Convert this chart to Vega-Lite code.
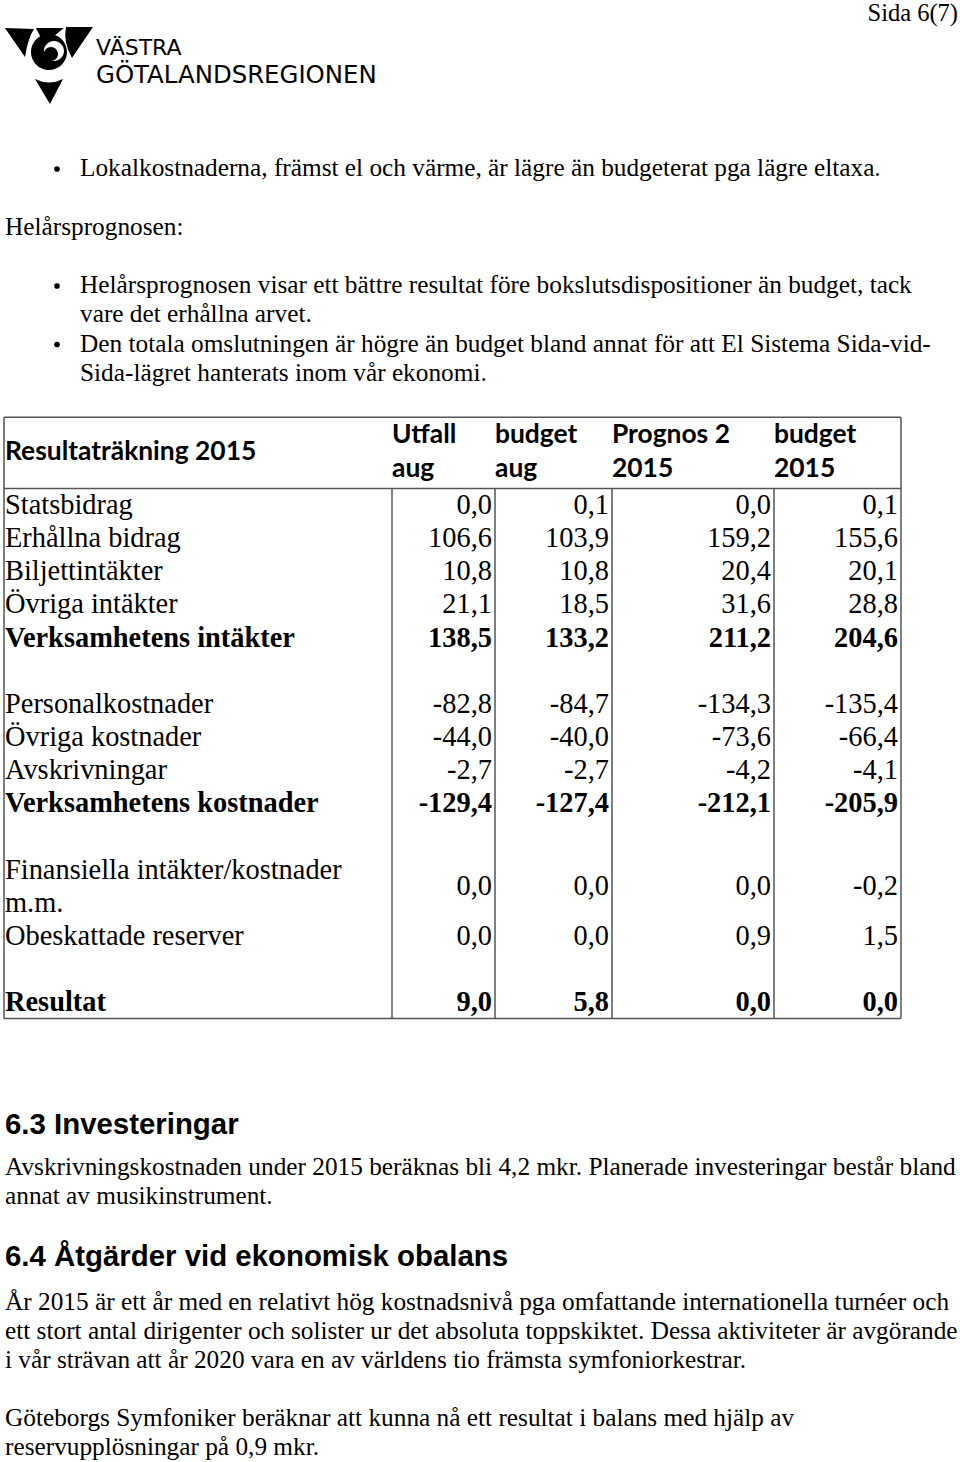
{
  "$schema": "https://vega.github.io/schema/vega-lite/v6.json",
  "width": 960,
  "height": 1462,
  "padding": 0,
  "autosize": {"type": "none"},
  "background": "white",
  "config": {
    "view": {"stroke": null},
    "locale": {"number": {"decimal": ",", "thousands": " ", "grouping": [3], "currency": ["", " kr"], "minus": "-"}}
  },
  "datasets": {
    "masthead": [
      {"part": "page", "text": "Sida 6(7)", "line": -5.27, "pos": 1},
      {"part": "logo1", "text": "VÄSTRA", "line": -4.09, "pos": 0.0955},
      {"part": "logo2", "text": "GÖTALANDSREGIONEN", "line": -3.15, "pos": 0.0955},
      {"part": "symbol", "text": "", "line": -3.521, "pos": 0.0451}
    ],
    "top": [
      {"line": 0, "indent": 0.0787, "bullet": true, "text": "Lokalkostnaderna, främst el och värme, är lägre än budgeterat pga lägre eltaxa."},
      {"line": 2, "indent": 0, "bullet": false, "text": "Helårsprognosen:"},
      {"line": 4, "indent": 0.0787, "bullet": true, "text": "Helårsprognosen visar ett bättre resultat före bokslutsdispositioner än budget, tack"},
      {"line": 5, "indent": 0.0787, "bullet": false, "text": "vare det erhållna arvet."},
      {"line": 6, "indent": 0.0787, "bullet": true, "text": "Den totala omslutningen är högre än budget bland annat för att El Sistema Sida-vid-"},
      {"line": 7, "indent": 0.0787, "bullet": false, "text": "Sida-lägret hanterats inom vår ekonomi."}
    ],
    "columns": [
      {"key": "Utfall aug", "col": 1, "end": 2, "head": ["Utfall", "aug"]},
      {"key": "budget aug", "col": 2, "end": 3, "head": ["budget", "aug"]},
      {"key": "Prognos 2 2015", "col": 3, "end": 4, "head": ["Prognos 2", "2015"]},
      {"key": "budget 2015", "col": 4, "end": 5, "head": ["budget", "2015"]}
    ],
    "table": [
      {"row": 0, "label": "Statsbidrag", "total": false, "Utfall aug": 0.0, "budget aug": 0.1, "Prognos 2 2015": 0.0, "budget 2015": 0.1},
      {"row": 1, "label": "Erhållna bidrag", "total": false, "Utfall aug": 106.6, "budget aug": 103.9, "Prognos 2 2015": 159.2, "budget 2015": 155.6},
      {"row": 2, "label": "Biljettintäkter", "total": false, "Utfall aug": 10.8, "budget aug": 10.8, "Prognos 2 2015": 20.4, "budget 2015": 20.1},
      {"row": 3, "label": "Övriga intäkter", "total": false, "Utfall aug": 21.1, "budget aug": 18.5, "Prognos 2 2015": 31.6, "budget 2015": 28.8},
      {"row": 4, "label": "Verksamhetens intäkter", "total": true, "Utfall aug": 138.5, "budget aug": 133.2, "Prognos 2 2015": 211.2, "budget 2015": 204.6},
      {"row": 6, "label": "Personalkostnader", "total": false, "Utfall aug": -82.8, "budget aug": -84.7, "Prognos 2 2015": -134.3, "budget 2015": -135.4},
      {"row": 7, "label": "Övriga kostnader", "total": false, "Utfall aug": -44.0, "budget aug": -40.0, "Prognos 2 2015": -73.6, "budget 2015": -66.4},
      {"row": 8, "label": "Avskrivningar", "total": false, "Utfall aug": -2.7, "budget aug": -2.7, "Prognos 2 2015": -4.2, "budget 2015": -4.1},
      {"row": 9, "label": "Verksamhetens kostnader", "total": true, "Utfall aug": -129.4, "budget aug": -127.4, "Prognos 2 2015": -212.1, "budget 2015": -205.9},
      {"row": 11.5, "label": ["Finansiella intäkter/kostnader", "m.m."], "total": false, "Utfall aug": 0.0, "budget aug": 0.0, "Prognos 2 2015": 0.0, "budget 2015": -0.2},
      {"row": 13, "label": "Obeskattade reserver", "total": false, "Utfall aug": 0.0, "budget aug": 0.0, "Prognos 2 2015": 0.9, "budget 2015": 1.5},
      {"row": 15, "label": "Resultat", "total": true, "Utfall aug": 9.0, "budget aug": 5.8, "Prognos 2 2015": 0.0, "budget 2015": 0.0}
    ],
    "grid": [
      {"c1": 0, "c2": 5, "r1": -2.65, "r2": -2.65},
      {"c1": 0, "c2": 5, "r1": -0.5, "r2": -0.5},
      {"c1": 0, "c2": 5, "r1": 15.5, "r2": 15.5},
      {"c1": 0, "c2": 0, "r1": -2.65, "r2": 15.5},
      {"c1": 5, "c2": 5, "r1": -2.65, "r2": 15.5},
      {"c1": 1, "c2": 1, "r1": -0.5, "r2": 15.5},
      {"c1": 2, "c2": 2, "r1": -0.5, "r2": 15.5},
      {"c1": 3, "c2": 3, "r1": -0.5, "r2": 15.5},
      {"c1": 4, "c2": 4, "r1": -0.5, "r2": 15.5}
    ],
    "bottom": [
      {"line": -6.1, "kind": "heading", "text": "6.3 Investeringar"},
      {"line": -4.655, "kind": "body", "text": "Avskrivningskostnaden under 2015 beräknas bli 4,2 mkr. Planerade investeringar består bland"},
      {"line": -3.655, "kind": "body", "text": "annat av musikinstrument."},
      {"line": -1.55, "kind": "heading", "text": "6.4 Åtgärder vid ekonomisk obalans"},
      {"line": 0, "kind": "body", "text": "År 2015 är ett år med en relativt hög kostnadsnivå pga omfattande internationella turnéer och"},
      {"line": 1, "kind": "body", "text": "ett stort antal dirigenter och solister ur det absoluta toppskiktet. Dessa aktiviteter är avgörande"},
      {"line": 2, "kind": "body", "text": "i vår strävan att år 2020 vara en av världens tio främsta symfoniorkestrar."},
      {"line": 4, "kind": "body", "text": "Göteborgs Symfoniker beräknar att kunna nå ett resultat i balans med hjälp av"},
      {"line": 5, "kind": "body", "text": "reservupplösningar på 0,9 mkr."}
    ]
  },
  "resolve": {"scale": {"x": "independent", "y": "independent"}},
  "layer": [
    {
      "data": {"name": "masthead"},
      "transform": [{"filter": "datum.part === 'symbol'"}],
      "mark": {
        "type": "point", "filled": true, "color": "black", "opacity": 1, "size": 8100, "strokeWidth": 0,
        "shape": "M-0.956,-0.822L-0.311,-0.8Q-0.444,-0.6,-0.511,-0.178Z M0.4,-0.844L1,-0.844L0.533,-0.156Q0.333,-0.511,0.4,-0.844Z M-0.2667,-0.8222L0.3556,-0.8222L-0.0889,-0.4667Z M0.4222,-0.2889C0.4222,-0.068,0.2431,0.1111,0.0222,0.1111C-0.1987,0.1111,-0.3778,-0.068,-0.3778,-0.2889C-0.3778,-0.5098,-0.1987,-0.6889,0.0222,-0.6889C0.2431,-0.6889,0.4222,-0.5098,0.4222,-0.2889Z M0.3555,-0.3111C0.3555,-0.4338,0.256,-0.5333,0.1333,-0.5333C0.0106,-0.5333,-0.0889,-0.4338,-0.0889,-0.3111C-0.0889,-0.1884,0.0106,-0.0889,0.1333,-0.0889C0.256,-0.0889,0.3555,-0.1884,0.3555,-0.3111Z M0.2223,-0.2444C0.2223,-0.1585,0.1526,-0.0888,0.0667,-0.0888C-0.0192,-0.0888,-0.0889,-0.1585,-0.0889,-0.2444C-0.0889,-0.3303,-0.0192,-0.4,0.0667,-0.4C0.1526,-0.4,0.2223,-0.3303,0.2223,-0.2444Z M-0.2889,0.3111Q0.0222,0.4667,0.3333,0.3111L0.0444,0.8667Z"
      },
      "encoding": {
        "x": {"field": "pos", "type": "quantitative", "axis": null, "scale": {"domain": [0, 1], "range": [5, 958], "nice": false, "zero": false}},
        "y": {"field": "line", "type": "quantitative", "axis": null, "scale": {"domain": [0, 10], "range": [168, 460.5], "nice": false, "zero": false}}
      }
    },
    {
      "data": {"name": "masthead"},
      "transform": [{"filter": "datum.part === 'logo1'"}],
      "mark": {"type": "text", "align": "left", "baseline": "middle", "font": "DejaVu Sans", "fontSize": 22, "color": "black"},
      "encoding": {
        "x": {"field": "pos", "type": "quantitative", "axis": null, "scale": {"domain": [0, 1], "range": [5, 958], "nice": false, "zero": false}},
        "y": {"field": "line", "type": "quantitative", "axis": null, "scale": {"domain": [0, 10], "range": [168, 460.5], "nice": false, "zero": false}},
        "text": {"field": "text", "type": "nominal"}
      }
    },
    {
      "data": {"name": "masthead"},
      "transform": [{"filter": "datum.part === 'logo2'"}],
      "mark": {"type": "text", "align": "left", "baseline": "middle", "font": "DejaVu Sans", "fontSize": 24.4, "color": "black"},
      "encoding": {
        "x": {"field": "pos", "type": "quantitative", "axis": null, "scale": {"domain": [0, 1], "range": [5, 958], "nice": false, "zero": false}},
        "y": {"field": "line", "type": "quantitative", "axis": null, "scale": {"domain": [0, 10], "range": [168, 460.5], "nice": false, "zero": false}},
        "text": {"field": "text", "type": "nominal"}
      }
    },
    {
      "data": {"name": "masthead"},
      "transform": [{"filter": "datum.part === 'page'"}],
      "mark": {"type": "text", "align": "right", "baseline": "middle", "font": "Liberation Serif", "fontSize": 24.5, "color": "black"},
      "encoding": {
        "x": {"field": "pos", "type": "quantitative", "axis": null, "scale": {"domain": [0, 1], "range": [5, 958], "nice": false, "zero": false}},
        "y": {"field": "line", "type": "quantitative", "axis": null, "scale": {"domain": [0, 10], "range": [168, 460.5], "nice": false, "zero": false}},
        "text": {"field": "text", "type": "nominal"}
      }
    },
    {
      "data": {"name": "top"},
      "mark": {"type": "text", "align": "left", "baseline": "middle", "font": "Liberation Serif", "fontSize": 25.3, "color": "black"},
      "encoding": {
        "x": {"field": "indent", "type": "quantitative", "axis": null, "scale": {"domain": [0, 1], "range": [5, 958], "nice": false, "zero": false}},
        "y": {"field": "line", "type": "quantitative", "axis": null, "scale": {"domain": [0, 10], "range": [168, 460.5], "nice": false, "zero": false}},
        "text": {"field": "text", "type": "nominal"}
      }
    },
    {
      "data": {"name": "top"},
      "transform": [{"filter": "datum.bullet"}],
      "mark": {"type": "point", "shape": "circle", "filled": true, "color": "black", "opacity": 1, "size": 32, "xOffset": -23, "yOffset": 1},
      "encoding": {
        "x": {"field": "indent", "type": "quantitative", "axis": null, "scale": {"domain": [0, 1], "range": [5, 958], "nice": false, "zero": false}},
        "y": {"field": "line", "type": "quantitative", "axis": null, "scale": {"domain": [0, 10], "range": [168, 460.5], "nice": false, "zero": false}}
      }
    },
    {
      "data": {"name": "grid"},
      "mark": {"type": "rule", "color": "#555555", "strokeWidth": 1.5},
      "encoding": {
        "x": {"field": "c1", "type": "quantitative", "axis": null, "scale": {"domain": [0, 1, 2, 3, 4, 5], "range": [4, 392, 495, 612, 774, 901], "nice": false, "zero": false}},
        "x2": {"field": "c2"},
        "y": {"field": "r1", "type": "quantitative", "axis": null, "scale": {"domain": [0, 15], "range": [505, 1002], "nice": false, "zero": false}},
        "y2": {"field": "r2"}
      }
    },
    {
      "data": {"values": [{"title": "Resultaträkning 2015", "col": 0, "row": -1.6}]},
      "mark": {"type": "text", "align": "left", "baseline": "middle", "font": "Lato", "fontWeight": "bold", "fontSize": 26.4, "color": "black", "dx": 1},
      "encoding": {
        "x": {"field": "col", "type": "quantitative", "axis": null, "scale": {"domain": [0, 1, 2, 3, 4, 5], "range": [4, 392, 495, 612, 774, 901], "nice": false, "zero": false}},
        "y": {"field": "row", "type": "quantitative", "axis": null, "scale": {"domain": [0, 15], "range": [505, 1002], "nice": false, "zero": false}},
        "text": {"field": "title", "type": "nominal"}
      }
    },
    {
      "data": {"name": "columns"},
      "mark": {"type": "text", "align": "left", "baseline": "middle", "font": "Lato", "fontWeight": "bold", "fontSize": 26.4, "lineHeight": 34, "color": "black", "dx": 0},
      "encoding": {
        "x": {"field": "col", "type": "quantitative", "axis": null, "scale": {"domain": [0, 1, 2, 3, 4, 5], "range": [4, 392, 495, 612, 774, 901], "nice": false, "zero": false}},
        "y": {"datum": -2.113, "type": "quantitative", "axis": null, "scale": {"domain": [0, 15], "range": [505, 1002], "nice": false, "zero": false}},
        "text": {"field": "head", "type": "nominal"}
      }
    },
    {
      "data": {"name": "table"},
      "transform": [{"filter": "!datum.total && !isArray(datum.label)"}],
      "mark": {"type": "text", "align": "left", "baseline": "middle", "font": "Liberation Serif", "fontSize": 28.4, "color": "black", "dx": 1},
      "encoding": {
        "x": {"datum": 0, "type": "quantitative", "axis": null, "scale": {"domain": [0, 1, 2, 3, 4, 5], "range": [4, 392, 495, 612, 774, 901], "nice": false, "zero": false}},
        "y": {"field": "row", "type": "quantitative", "axis": null, "scale": {"domain": [0, 15], "range": [505, 1002], "nice": false, "zero": false}},
        "text": {"field": "label", "type": "nominal"}
      }
    },
    {
      "data": {"name": "table"},
      "transform": [{"filter": "isArray(datum.label)"}],
      "mark": {"type": "text", "align": "left", "baseline": "middle", "font": "Liberation Serif", "fontSize": 28.4, "lineHeight": 33.1, "color": "black", "dx": 1, "yOffset": -16.5},
      "encoding": {
        "x": {"datum": 0, "type": "quantitative", "axis": null, "scale": {"domain": [0, 1, 2, 3, 4, 5], "range": [4, 392, 495, 612, 774, 901], "nice": false, "zero": false}},
        "y": {"field": "row", "type": "quantitative", "axis": null, "scale": {"domain": [0, 15], "range": [505, 1002], "nice": false, "zero": false}},
        "text": {"field": "label", "type": "nominal"}
      }
    },
    {
      "data": {"name": "table"},
      "transform": [{"filter": "datum.total"}],
      "mark": {"type": "text", "align": "left", "baseline": "middle", "font": "Liberation Serif", "fontWeight": "bold", "fontSize": 28.4, "color": "black", "dx": 1},
      "encoding": {
        "x": {"datum": 0, "type": "quantitative", "axis": null, "scale": {"domain": [0, 1, 2, 3, 4, 5], "range": [4, 392, 495, 612, 774, 901], "nice": false, "zero": false}},
        "y": {"field": "row", "type": "quantitative", "axis": null, "scale": {"domain": [0, 15], "range": [505, 1002], "nice": false, "zero": false}},
        "text": {"field": "label", "type": "nominal"}
      }
    },
    {
      "data": {"name": "table"},
      "transform": [
        {"fold": ["Utfall aug", "budget aug", "Prognos 2 2015", "budget 2015"]},
        {"lookup": "key", "from": {"data": {"name": "columns"}, "key": "key", "fields": ["end"]}},
        {"filter": "!datum.total"}
      ],
      "mark": {"type": "text", "align": "right", "baseline": "middle", "font": "Liberation Serif", "fontSize": 28.4, "color": "black", "dx": -3},
      "encoding": {
        "x": {"field": "end", "type": "quantitative", "axis": null, "scale": {"domain": [0, 1, 2, 3, 4, 5], "range": [4, 392, 495, 612, 774, 901], "nice": false, "zero": false}},
        "y": {"field": "row", "type": "quantitative", "axis": null, "scale": {"domain": [0, 15], "range": [505, 1002], "nice": false, "zero": false}},
        "text": {"field": "value", "type": "quantitative", "format": ".1f"}
      }
    },
    {
      "data": {"name": "table"},
      "transform": [
        {"fold": ["Utfall aug", "budget aug", "Prognos 2 2015", "budget 2015"]},
        {"lookup": "key", "from": {"data": {"name": "columns"}, "key": "key", "fields": ["end"]}},
        {"filter": "datum.total"}
      ],
      "mark": {"type": "text", "align": "right", "baseline": "middle", "font": "Liberation Serif", "fontWeight": "bold", "fontSize": 28.4, "color": "black", "dx": -3},
      "encoding": {
        "x": {"field": "end", "type": "quantitative", "axis": null, "scale": {"domain": [0, 1, 2, 3, 4, 5], "range": [4, 392, 495, 612, 774, 901], "nice": false, "zero": false}},
        "y": {"field": "row", "type": "quantitative", "axis": null, "scale": {"domain": [0, 15], "range": [505, 1002], "nice": false, "zero": false}},
        "text": {"field": "value", "type": "quantitative", "format": ".1f"}
      }
    },
    {
      "data": {"name": "bottom"},
      "transform": [{"filter": "datum.kind === 'heading'"}],
      "mark": {"type": "text", "align": "left", "baseline": "middle", "font": "Liberation Sans", "fontWeight": "bold", "fontSize": 29.4, "color": "black"},
      "encoding": {
        "x": {"datum": 0, "type": "quantitative", "axis": null, "scale": {"domain": [0, 1], "range": [5, 958], "nice": false, "zero": false}},
        "y": {"field": "line", "type": "quantitative", "axis": null, "scale": {"domain": [0, 5], "range": [1302, 1447], "nice": false, "zero": false}},
        "text": {"field": "text", "type": "nominal"}
      }
    },
    {
      "data": {"name": "bottom"},
      "transform": [{"filter": "datum.kind === 'body'"}],
      "mark": {"type": "text", "align": "left", "baseline": "middle", "font": "Liberation Serif", "fontSize": 25.3, "color": "black"},
      "encoding": {
        "x": {"datum": 0, "type": "quantitative", "axis": null, "scale": {"domain": [0, 1], "range": [5, 958], "nice": false, "zero": false}},
        "y": {"field": "line", "type": "quantitative", "axis": null, "scale": {"domain": [0, 5], "range": [1302, 1447], "nice": false, "zero": false}},
        "text": {"field": "text", "type": "nominal"}
      }
    }
  ]
}
